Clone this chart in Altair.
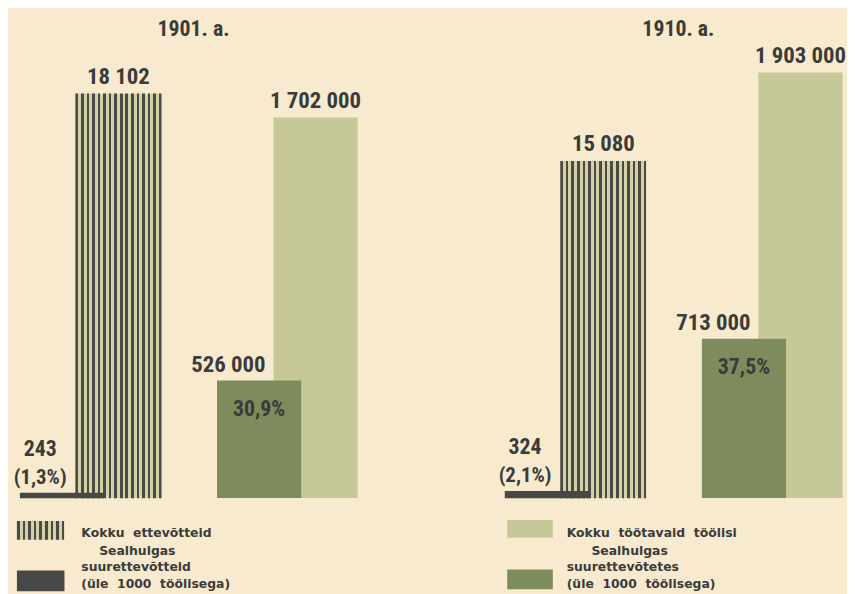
import altair as alt
import pandas as pd

# ---------------- data ----------------
years = ["1901", "1910"]
year_titles = ["1901. a.", "1910. a."]
measures = ["ettevõtted", "töölised"]

ent_total = [18102, 15080]          # Kokku ettevõtteid
ent_large = [243, 324]              # suurettevõtteid (üle 1000 töölisega)
ent_large_pct = ["(1,3%)", "(2,1%)"]

work_total = [1702000, 1903000]     # Kokku töötavaid töölisi
work_large = [526000, 713000]       # suurettevõtetes
work_large_pct = ["30,9%", "37,5%"]

NB = "\u00a0"
legend_left = ["Kokku" + NB + " ettevõtteid", "Sealhulgas", "suurettevõtteid",
               "(üle" + NB + " 1000" + NB + " töölisega)"]
legend_right = ["Kokku" + NB + " töötavaid" + NB + " töölisi", "Sealhulgas", "suurettevõtetes",
                "(üle" + NB + " 1000" + NB + " töölisega)"]


def fmt(n):
    return f"{n:,}".replace(",", " ")


def frame(measure, values, pct=None):
    d = {"year": years, "measure": measure, "value": values, "label": [fmt(v) for v in values]}
    if pct is not None:
        d["pct"] = pct
    return pd.DataFrame(d)


ent_total_df = frame("ettevõtted", ent_total)
ent_large_df = frame("ettevõtted", ent_large, ent_large_pct)
work_total_df = frame("töölised", work_total)
work_large_df = frame("töölised", work_large, work_large_pct)
title_df = pd.DataFrame({"year": years, "title": year_titles})
dummy = pd.DataFrame({"k": [0]})

# ---------------- styles ----------------
W, H = 847, 586
BG = "#f7eacf"
LIGHT = "#c7c898"
DARKG = "#7d8b5d"
DARK = "#484846"
STRIPE_D = "#4b4a44"
STRIPE_L = "#d4d1a6"
TXT = "#3b3b39"
NUMFONT = "Roboto Condensed, Roboto, sans-serif"
LEGFONT = "DejaVu Sans, sans-serif"


def stripes(n, frac=0.47):
    period = 1.0 / (n - 1 + frac)
    stops = []
    for i in range(n):
        a = i * period
        b = min(a + frac * period, 1.0)
        stops += [alt.GradientStop(offset=a, color=STRIPE_D), alt.GradientStop(offset=b, color=STRIPE_D)]
        if b < 1.0:
            nxt = min((i + 1) * period, 1.0)
            stops += [alt.GradientStop(offset=b, color=STRIPE_L), alt.GradientStop(offset=nxt, color=STRIPE_L)]
    return alt.LinearGradient(gradient="linear", stops=stops, x1=0, x2=1, y1=0, y2=0)


x_enc = alt.X("year:N", axis=None,
              scale=alt.Scale(domain=years, paddingInner=0.38713, paddingOuter=0.05874, align=0.5609))


def xoff(align):
    return alt.XOffset("measure:N",
                       scale=alt.Scale(domain=measures, paddingInner=0.9, paddingOuter=0.20377, align=align))


ENT_DOM = [-4165, 21802]
WORK_DOM = [-416300, 2178900]


def y_enc(dom):
    return alt.Y("value:Q", axis=None, scale=alt.Scale(domain=dom, nice=False, zero=False))


def txt(base, size, field, dx=0, dy=0):
    return base.mark_text(font=NUMFONT, fontSize=size, fontWeight="bold", color=TXT,
                          baseline="alphabetic", align="center", dx=dx, dy=dy).encode(text=f"{field}:N")


TOT_ALIGN, SUB_ALIGN = 0.8545, 0.1517
BAR_W = 85

# enterprises total (hatched)
ent_tot_base = alt.Chart(ent_total_df).encode(x=x_enc, xOffset=xoff(TOT_ALIGN), y=y_enc(ENT_DOM))
ent_tot = alt.layer(
    ent_tot_base.mark_bar(color=stripes(16), width=BAR_W + 2),
    txt(ent_tot_base, 23, "label", dy=-10),
)

# workers total (light green)
work_tot_base = alt.Chart(work_total_df).encode(x=x_enc, xOffset=xoff(TOT_ALIGN), y=y_enc(WORK_DOM))
work_tot = alt.layer(
    work_tot_base.mark_bar(color=LIGHT, width=BAR_W),
    txt(work_tot_base, 23, "label", dy=-10),
)

# enterprises large (dark)
ent_sub_base = alt.Chart(ent_large_df).encode(x=x_enc, xOffset=xoff(SUB_ALIGN), y=y_enc(ENT_DOM))
ent_sub = alt.layer(
    ent_sub_base.mark_bar(color=DARK, width=BAR_W),
    txt(ent_sub_base, 22, "label", dx=-22, dy=-37),
    txt(ent_sub_base, 21, "pct", dx=-22, dy=-9),
)

# workers large (dark green)
work_sub_base = alt.Chart(work_large_df).encode(x=x_enc, xOffset=xoff(SUB_ALIGN), y=y_enc(WORK_DOM))
work_sub = alt.layer(
    work_sub_base.mark_bar(color=DARKG, width=BAR_W),
    txt(work_sub_base, 23, "label", dx=-31, dy=-9),
    txt(work_sub_base, 22, "pct", dy=36),
)

titles = alt.Chart(title_df).mark_text(
    font=NUMFONT, fontSize=22, fontWeight="bold", color=TXT, baseline="alphabetic", dx=5
).encode(x=x_enc, y=alt.value(25), text="title:N")


def swatch(fill, x0, x1, y0, y1):
    return alt.Chart(dummy).mark_rect(color=fill).encode(
        x=alt.value(x0), x2=alt.value(x1), y=alt.value(y0), y2=alt.value(y1))


def leg_text(t, x, y):
    return alt.Chart(dummy).mark_text(
        font=LEGFONT, fontSize=12.5, fontWeight="bold", color=TXT, align="left", baseline="alphabetic"
    ).encode(x=alt.value(x), y=alt.value(y), text=alt.value(t))


legend = [
    swatch(stripes(9), 9, 57, 515, 534),
    swatch(DARK, 9, 57, 565, 586),
    leg_text(legend_left[0], 74, 531),
    leg_text(legend_left[1], 92, 549),
    leg_text(legend_left[2], 74, 566),
    leg_text(legend_left[3], 74, 583),
    swatch(LIGHT, 504, 550, 514, 532),
    swatch(DARKG, 504, 550, 564, 584),
    leg_text(legend_right[0], 564, 531),
    leg_text(legend_right[1], 589, 549),
    leg_text(legend_right[2], 564, 566),
    leg_text(legend_right[3], 564, 583),
]

chart = alt.layer(ent_tot, work_tot, ent_sub, work_sub, titles, *legend).resolve_scale(
    y="independent", xOffset="independent"
).properties(
    width=W, height=H, padding=0, background=BG,
    autosize=alt.AutoSizeParams(type="none"),
).configure_view(stroke=None)

chart.save("out.html", embed_options={"renderer": "svg", "actions": False})
